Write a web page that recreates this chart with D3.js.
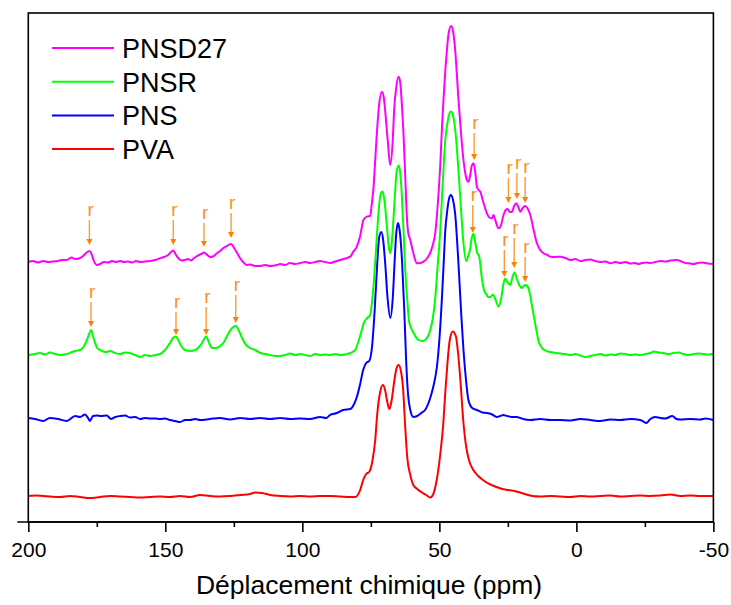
<!DOCTYPE html>
<html><head><meta charset="utf-8">
<script src="https://cdn.jsdelivr.net/npm/d3@7"></script>
<style>body{margin:0;background:#fff}svg{display:block}text{font-family:Arial,"Liberation Sans",sans-serif}</style>
</head><body>
<svg id="chart" width="731" height="605"></svg>
<script>
// ---------- DATA (chemical shift in ppm, intensity in arbitrary units, stacked offsets included) ----------
const seriesNames = ["PNSD27", "PNSR", "PNS", "PVA"];
const seriesColors = ["#FF00FF", "#00FF00", "#0000FF", "#FF0000"];

const PVA = [
[200.0,26],[197.6,26.5],[194.6,26],[192.1,25.5],[188.4,25],[184.8,26],[181.1,25],[177.5,24],[173.8,25],[170.2,26],
[166.5,25.5],[162.9,25],[159.2,24.5],[155.6,25],[151.9,25.5],[148.3,25],[144.6,26],[141.0,25],[137.3,27],[133.7,26],
[130.0,25.5],[126.4,26],[122.7,27],[119.1,28],[117.2,29.5],[114.7,29],[111.8,27],[108.1,26],[104.5,25.5],[100.8,26],
[97.2,25.5],[93.5,26],[89.9,26],[86.2,25.5],[82.5,25],[80.7,25],[78.9,32],[77.8,42],[76.7,48],[75.6,50],[74.5,60],
[73.4,82],[72.7,107],[71.6,130],[70.6,137],[69.8,132],[69.0,120],[68.2,113],[67.4,122],[66.5,140],[65.6,154],[64.9,157],
[64.1,152],[63.2,132],[62.5,97],[61.7,64],[60.6,47],[59.5,37],[58.1,33],[56.6,30],[54.8,27],[53.3,24.5],[52.2,28],
[51.1,40],[50.0,60],[49.3,77],[48.6,97],[47.9,127],[47.1,157],[46.2,182],[45.1,190.5],[44.0,186],[43.1,167],[42.2,137],
[41.3,102],[40.2,75],[39.1,61],[37.6,52],[35.8,46],[33.6,41],[31.4,37.5],[29.2,35],[27.1,33],[24.9,32],[22.7,31],
[20.5,29.5],[18.3,27.5],[16.1,26],[13.2,25.5],[9.5,26],[5.9,25.5],[2.2,25],[-1.4,26],[-5.1,25.5],[-8.7,26],[-12.4,26.5],
[-16.0,25.5],[-19.7,26],[-23.3,26.5],[-27.0,26],[-30.6,26.5],[-34.3,27.5],[-37.9,26],[-41.6,26.5],[-45.2,26],[-50.0,26]
];

const PNS = [
[200.0,104],[197.6,103],[194.6,101],[192.1,104],[189.2,103],[186.0,101],[182.9,106],[181.1,105],[179.3,107.5],[178.2,104],
[177.5,101],[176.4,106],[174.9,106.5],[173.5,106],[171.4,106.5],[169.8,103],[168.3,105],[166.5,106],[164.7,106.5],[162.9,104.5],
[161.0,105],[159.2,103],[157.4,104],[155.6,103.5],[153.7,103.5],[151.9,103],[150.1,103.5],[148.3,102],[146.4,101],[144.6,100],
[142.8,102],[141.0,102],[139.1,103],[137.3,102],[133.7,103],[130.0,104],[126.4,102.5],[122.7,104],[119.1,103],[115.4,104],
[111.8,103],[108.1,104],[104.5,103],[100.8,103.5],[97.2,103],[93.5,105],[91.3,104],[89.9,107],[87.4,109],[85.1,112],
[82.5,113],[81.1,118],[80.0,126],[78.9,138],[77.8,152],[76.7,159],[75.6,161],[74.5,177],[73.6,212],[72.7,257],[72.0,284],
[71.2,290],[70.5,282],[69.8,260],[68.9,224],[67.9,204],[67.0,224],[66.3,262],[65.75,288],[65.1,299],[64.5,292],[63.6,260],
[62.8,212],[62.1,160],[61.4,127],[60.6,112],[59.5,105],[58.1,106],[56.6,109],[55.2,112],[54.1,118],[53.0,127],[51.9,139],
[50.9,155],[50.0,182],[49.1,222],[48.4,260],[47.9,289],[47.1,312],[46.4,324],[45.8,327],[45.1,323],[44.2,307],[43.0,257],
[42.0,207],[41.2,172],[40.2,140],[39.4,122],[38.0,114],[36.3,112],[34.3,109.5],[32.6,109],[31.1,108],[29.0,105],[27.8,106],
[26.7,107],[25.2,106],[23.5,105],[21.7,105],[20.5,104],[19.4,103],[16.8,102],[13.2,103],[9.5,102],[5.9,102],[2.2,101.5],
[-1.4,103],[-5.1,102],[-8.7,101],[-12.4,102.5],[-16.0,102],[-19.7,103],[-23.3,102],[-24.4,100.5],[-25.5,99],[-27.0,103],
[-28.8,105],[-30.6,104],[-32.5,103.5],[-35.0,106],[-36.5,103],[-37.9,102.5],[-41.6,103],[-45.2,102.5],[-47.1,103.5],[-50.0,102]
];

const PNSR = [
[200.0,167],[197.6,168],[195.7,169],[193.9,167.5],[192.1,169.5],[190.2,168],[188.4,167],[186.0,168],[184.0,170],[182.9,171],
[181.1,172],[179.9,175],[178.9,180],[177.8,188],[177.1,192],[176.4,186],[175.6,179],[174.9,174],[173.8,172],[172.7,170.5],
[171.4,170],[170.2,171],[168.3,169],[166.5,168],[164.7,169.5],[162.9,169],[161.0,167],[159.2,165],[157.4,167],[155.6,166],
[153.7,167],[151.9,168],[150.1,172],[148.3,179],[147.2,184],[146.2,185.5],[145.3,182],[144.2,176],[142.8,172],[141.0,171],
[139.1,172],[137.7,175],[136.6,179],[135.1,185.5],[134.0,179],[132.9,174],[131.5,174],[130.0,176],[128.6,180],[127.1,188],
[125.6,194],[124.3,196],[123.1,191],[122.0,184],[120.5,177],[119.1,174],[117.2,172],[115.4,169],[113.6,168],[111.8,167],
[109.9,166],[108.1,166],[106.3,167],[104.5,168.5],[102.6,167],[100.8,168],[99.0,167],[97.2,166],[95.3,168],[93.5,167],
[91.7,167.5],[89.9,167],[88.0,168],[86.2,167],[84.4,167.5],[82.5,169],[80.7,172],[79.6,180],[78.5,190],[77.4,200],
[76.3,204],[75.25,207],[74.5,222],[73.8,244],[72.9,282],[72.0,316],[71.4,328],[70.8,330.5],[70.1,323],[69.15,296],
[68.5,276],[67.9,269],[67.4,278],[66.7,305],[66.1,332],[65.6,350],[64.9,356.5],[64.3,350],[63.7,327],[63.0,287],[62.5,255],
[61.7,222],[61.0,200],[59.4,189],[57.6,182],[56.3,181],[55.2,182],[54.1,186],[53.3,192],[52.2,207],[51.5,224],[50.6,257],
[49.7,290],[49.0,327],[48.4,357],[47.9,380],[47.1,398],[46.4,408],[45.85,410.5],[45.3,409],[44.8,404],[44.2,392],[43.5,370],
[42.75,340],[42.0,309],[41.2,279],[40.2,261],[39.5,266],[38.7,274],[38.2,284],[37.5,288],[36.9,280],[36.3,270],[35.45,265.5],
[34.5,244],[33.6,231],[32.9,228],[32.2,225],[31.4,225],[30.45,227.5],[29.6,223],[28.4,215.5],[27.4,224],[26.7,237],[25.96,243.5],
[25.2,240],[24.1,237],[23.4,244],[22.56,249.5],[21.8,244],[21.1,238.5],[19.9,234],[19.2,236],[18.66,237],[17.9,236],[17.2,231],
[16.2,216],[15.4,204],[14.6,192],[13.9,182],[12.8,175],[11.4,171.5],[9.5,170],[7.7,169],[5.9,168.5],[4.0,168],[2.2,167],
[0.4,168],[-1.4,166.5],[-3.3,165],[-5.1,166],[-6.9,167],[-8.7,168],[-10.6,166.5],[-12.4,167.5],[-14.2,167],[-16.0,168.5],
[-17.9,168],[-19.7,167],[-21.5,167.5],[-23.3,167],[-25.2,168],[-27.0,169],[-28.2,170.5],[-29.9,169.5],[-31.7,169],[-33.6,168],
[-35.4,169],[-37.2,169.5],[-39.0,168],[-40.9,167],[-42.7,168],[-44.5,168.5],[-46.3,168],[-48.2,167.5],[-50.0,168]
];

const PNSD27 = [
[200.0,260],[198.3,261],[196.5,259.5],[194.6,261],[192.8,260],[191.0,260.5],[189.2,261],[187.7,262],[186.0,262],[184.2,264.5],
[182.9,263],[181.5,263.5],[180.0,266],[178.9,269],[177.7,271],[176.9,268],[176.2,262],[175.0,257],[173.8,258],[172.4,260],
[170.9,259.5],[169.4,261],[168.0,260],[166.5,261],[165.1,260],[163.6,260.5],[162.1,259.5],[160.7,261],[159.2,260],[157.4,260.5],
[155.6,261],[153.7,262],[151.9,263.7],[150.5,265],[149.0,267],[147.9,270],[147.1,271.5],[146.3,268],[145.3,264],[144.2,261.5],
[142.8,262],[141.7,263],[140.6,261.5],[139.5,264],[138.4,266],[136.9,268],[135.85,269.5],[134.7,267],[133.7,265],[132.6,265.5],
[131.1,269],[130.0,271],[128.9,273.7],[127.5,276],[126.0,278],[124.9,274],[123.8,269],[122.7,263.7],[121.6,260],[120.3,257],
[119.1,257.5],[117.2,256],[115.4,256],[113.6,257],[111.8,256],[109.3,257],[108.1,258],[106.3,257],[104.5,259],[102.6,258],
[100.8,259],[99.0,260],[97.2,259],[95.3,260],[93.5,261],[91.7,260],[89.9,259],[87.4,261],[85.0,263],[82.5,265.3],[81.5,270],
[80.1,275.3],[78.9,286],[77.7,302],[76.45,305.3],[75.25,306],[74.7,317],[74.0,335.3],[73.4,362],[72.8,389],[72.0,417],
[71.0,430.3],[70.3,425],[69.8,412],[68.85,382],[67.94,357],[67.0,382],[66.5,412],[65.75,434],[64.9,445.3],[64.3,440],[63.56,412],
[63.1,389],[62.47,347],[61.85,305.3],[61.4,290],[60.6,282],[59.5,269],[58.2,258.7],[57.0,259],[55.8,260.3],[54.4,264],[53.35,269],
[52.4,277],[51.5,289],[50.6,317],[49.7,355.3],[49.0,397],[48.5,422],[47.86,450],[47.24,472],[46.6,489],[45.67,496],[44.9,489],
[44.22,472],[43.6,447],[43.0,422],[42.4,400],[41.8,379],[41.2,362],[40.56,349],[39.94,342],[39.36,340.3],[38.74,347],[38.2,356],
[37.53,358.7],[36.9,350],[36.3,335.3],[35.7,332],[35.08,330.3],[33.88,319],[32.64,308.7],[31.8,304.5],[30.8,303.7],[30.23,307],
[29.6,302],[28.4,293.7],[27.6,296],[26.58,307],[25.8,312],[25.12,313],[24.3,310],[23.5,310.3],[22.7,316],[21.94,318.7],[21.2,315],
[20.48,310.3],[19.6,314],[18.66,316],[17.7,313],[16.8,307],[15.6,292],[14.4,278.7],[13.2,272],[12.0,268.7],[10.6,267],[9.5,265.3],
[7.7,265],[5.9,265.3],[4.0,264],[2.2,262],[0.4,263],[-1.4,261],[-3.3,262],[-5.1,262.5],[-6.9,261],[-8.7,260],[-10.6,260.5],
[-12.4,258.7],[-14.2,260],[-16.0,259],[-17.9,260],[-19.7,258.5],[-21.5,259],[-22.6,258],[-24.0,259],[-25.5,259.5],[-27.0,259],
[-28.8,260],[-30.6,261],[-32.5,260.5],[-34.3,261.5],[-36.7,262],[-37.9,261],[-39.8,259],[-41.6,258.5],[-42.7,258],[-44.1,259],
[-46.0,259.5],[-47.8,258.5],[-50.0,258]
];

// Arrow annotations (marked resonances)
const arrowPpmD27  = [177.7, 147.1, 135.9, 126.0, 37.3, 24.8, 21.7, 18.7];
const arrowTipD27  = [277, 277, 275, 284, 362, 319, 323, 319];
const arrowTailD27 = [302, 302, 299, 309, 389, 344, 349, 345];
const arrowPpmR    = [177.1, 146.1, 135.1, 124.3, 37.8, 26.3, 22.7, 18.7];
const arrowTipR    = [195, 187, 187, 199, 289, 245, 254, 240];
const arrowTailR   = [220, 210, 215, 227, 317, 272, 284, 265];
const markLabel = "r";

const majorTicks = [200, 150, 100, 50, 0, -50];
const minorTicks = [175, 125, 75, 25, -25];
const xTitle = "Déplacement chimique (ppm)";

// ---------- DRAW ----------
(function () {
const svg = d3.select("#chart");
const pLeft = 28.3, pRight = 713.4, pTop = 13, pBottom = 522;
const x = d3.scaleLinear().domain([200, -50]).range([pLeft, pRight]);
const y = d3.scaleLinear().domain([0, 509]).range([pBottom, pTop]);

const data = [PNSD27, PNSR, PNS, PVA];
const line = d3.line().x(d => x(d[0])).y(d => y(d[1])).curve(d3.curveMonotoneX);

for (let i = data.length - 1; i >= 0; i--) {
  svg.append("path").attr("d", line(data[i])).attr("fill", "none")
    .attr("stroke", seriesColors[i]).attr("stroke-width", 2).attr("stroke-linejoin", "round");
}

const orange = "#FF8000";
function drawArrows(ppm, tip, tail) {
  ppm.forEach((p, i) => {
    const xx = x(p), yt = y(tip[i]), ys = y(tail[i]);
    svg.append("line").attr("x1", xx).attr("x2", xx).attr("y1", ys).attr("y2", yt - 5)
      .attr("stroke", orange).attr("stroke-width", 1.4).attr("stroke-opacity", 0.8);
    svg.append("path").attr("d", `M${xx - 3},${yt - 6}L${xx + 3},${yt - 6}L${xx},${yt}Z`).attr("fill", orange);
    svg.append("text").attr("x", xx - 2).attr("y", ys - 4).attr("font-size", 19)
      .attr("fill", orange).attr("fill-opacity", 0.9).text(markLabel);
  });
}
drawArrows(arrowPpmD27, arrowTipD27, arrowTailD27);
drawArrows(arrowPpmR, arrowTipR, arrowTailR);

svg.append("rect").attr("x", pLeft).attr("y", pTop).attr("width", pRight - pLeft).attr("height", pBottom - pTop)
  .attr("fill", "none").attr("stroke", "#000").attr("stroke-width", 1.6);

const gx = svg.append("g").attr("transform", `translate(0,${pBottom})`);
gx.call(d3.axisBottom(x).tickValues(majorTicks).tickSize(10).tickFormat(d => String(d)));
gx.select(".domain").remove();
gx.selectAll(".tick line").attr("stroke", "#000").attr("stroke-width", 1.6);
gx.selectAll(".tick text").attr("y", 35).attr("dy", null).attr("font-size", 21)
  .attr("font-family", "Arial, 'Liberation Sans', sans-serif").attr("fill", "#000");
const gm = svg.append("g").attr("transform", `translate(0,${pBottom})`);
gm.call(d3.axisBottom(x).tickValues(minorTicks).tickSize(5).tickFormat(""));
gm.select(".domain").remove();
gm.selectAll(".tick line").attr("stroke", "#000").attr("stroke-width", 1.6);
svg.append("line").attr("x1", pLeft - 11).attr("x2", pRight).attr("y1", pBottom).attr("y2", pBottom)
  .attr("stroke", "#000").attr("stroke-width", 1.6);

svg.append("text").attr("x", 369).attr("y", 594).attr("text-anchor", "middle")
  .attr("font-size", 26.5).attr("fill", "#000").text(xTitle);

const legY0 = 48, legDy = 33.7;
seriesNames.forEach((n, i) => {
  const yy = legY0 + i * legDy;
  svg.append("line").attr("x1", 52).attr("x2", 114).attr("y1", yy).attr("y2", yy)
    .attr("stroke", seriesColors[i]).attr("stroke-width", 2);
  svg.append("text").attr("x", 122).attr("y", yy + 10).attr("font-size", 27).attr("fill", "#000").text(n);
});
})();
</script></body></html>
